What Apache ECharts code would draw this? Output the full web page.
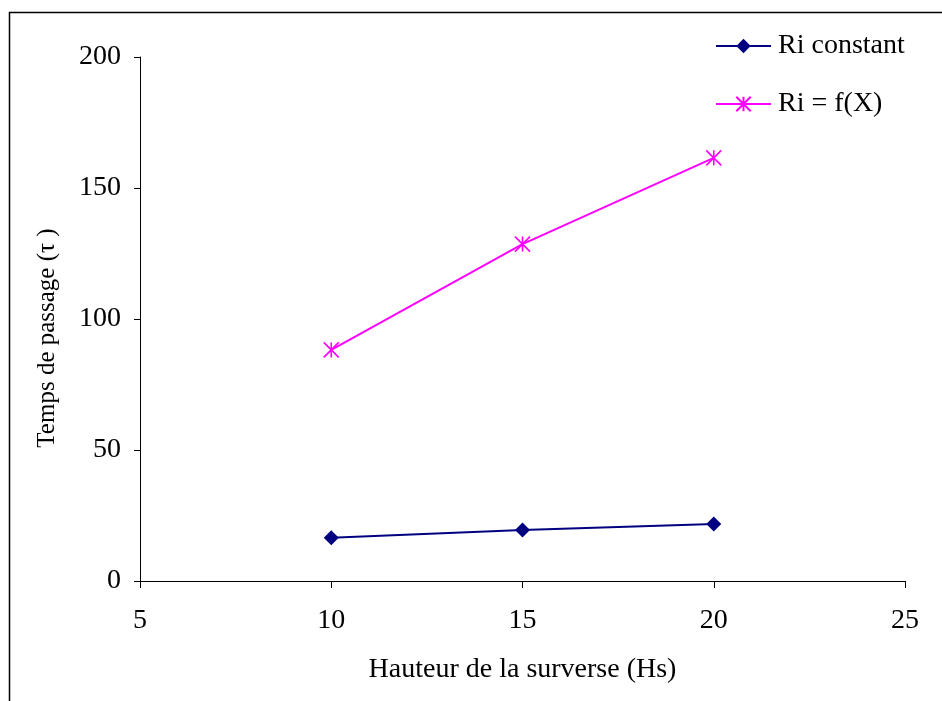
<!DOCTYPE html>
<html><head><meta charset="utf-8">
<script src="https://cdn.jsdelivr.net/npm/echarts@6/dist/echarts.min.js"></script>
<style>html,body{margin:0;padding:0;background:#fff}#c{width:942px;height:701px}</style>
</head><body><div id="c"></div>
<script>
const xValues = [10, 15, 20];
const riConstant = [16.5, 19.5, 21.8];
const riFX = [88.2, 128.6, 161.5];
const seriesNames = ['Ri constant', 'Ri = f(X)'];
const xTitle = 'Hauteur de la surverse (Hs)';
const yTitle = 'Temps de passage (\u03c4 )';

const font = 'Liberation Serif';
const asterisk = 'path://M0,-10L0,10M-10,-10L10,10M-10,10L10,-10';
const chart = echarts.init(document.getElementById('c'));
chart.setOption({
  animation: false,
  backgroundColor: '#fff',
  textStyle: { fontFamily: font },
  graphic: [{
    type: 'rect', shape: { x: 9.5, y: 12.5, width: 1000, height: 1000 },
    style: { fill: 'none', stroke: '#000', lineWidth: 1.5 }, silent: true, z: -1
  }],
  grid: { left: 140, right: 37, top: 57, bottom: 120 },
  legend: {
    orient: 'vertical', left: 715, top: 32, itemGap: 30, padding: 0,
    itemWidth: 55, itemHeight: 18,
    textStyle: { fontFamily: font, fontSize: 28, color: '#000', padding: [0,0,0,2] },
    data: seriesNames
  },
  xAxis: {
    type: 'value', min: 5, max: 25, interval: 5,
    name: xTitle, nameLocation: 'middle', nameGap: 75,
    nameTextStyle: { fontFamily: font, fontSize: 28, color: '#000' },
    axisLine: { onZero: false, lineStyle: { color: '#000', width: 1 } },
    axisTick: { show: true, length: 7, lineStyle: { color: '#000' } },
    axisLabel: { fontFamily: font, fontSize: 28, color: '#000', margin: 26 },
    splitLine: { show: false }
  },
  yAxis: {
    type: 'value', min: 0, max: 200, interval: 50,
    name: yTitle, nameLocation: 'middle', nameGap: 80,
    nameTextStyle: { fontFamily: font, fontSize: 25, color: '#000', padding: [0, 38, 0, 0] },
    axisLine: { show: true, lineStyle: { color: '#000', width: 1 } },
    axisTick: { show: true, length: 6, lineStyle: { color: '#000' } },
    axisLabel: { fontFamily: font, fontSize: 28, color: '#000', margin: 19 },
    splitLine: { show: false }
  },
  series: [
    {
      name: seriesNames[0], type: 'line',
      data: xValues.map((x, i) => [x, riConstant[i]]),
      symbol: 'diamond', symbolSize: 15, showAllSymbol: true,
      lineStyle: { color: '#000080', width: 2 },
      itemStyle: { color: '#000080' }
    },
    {
      name: seriesNames[1], type: 'line',
      data: xValues.map((x, i) => [x, riFX[i]]),
      symbol: asterisk, symbolSize: 15, showAllSymbol: true,
      lineStyle: { color: '#FF00FF', width: 2 },
      itemStyle: { color: '#FF00FF', borderColor: '#FF00FF', borderWidth: 1.6 }
    }
  ]
});
</script></body></html>
